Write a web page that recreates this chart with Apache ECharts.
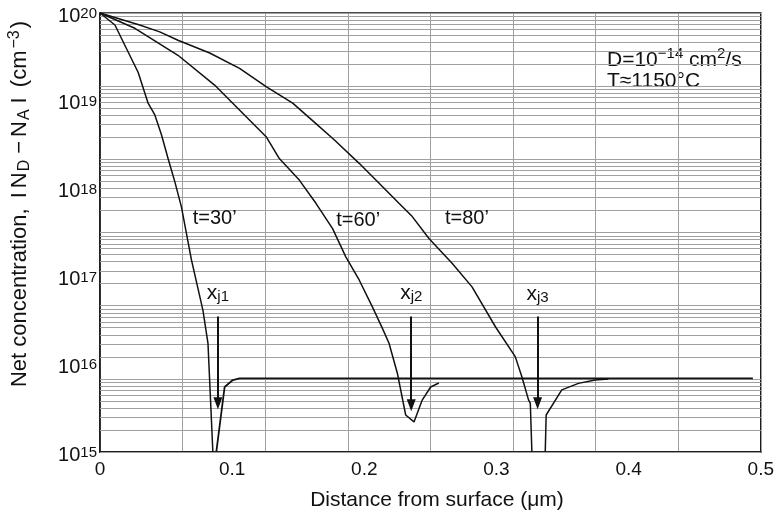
<!DOCTYPE html>
<html>
<head>
<meta charset="utf-8">
<script src="https://cdn.jsdelivr.net/npm/echarts@6/dist/echarts.min.js"></script>
<style>
  html, body { margin: 0; padding: 0; background: #fff; }
  #chart { width: 777px; height: 518px; }
</style>
</head>
<body>
<div id="chart"></div>
<script>
// Net donor-minus-acceptor concentration (cm^-3) against depth (µm)
// for three diffusion times; each pair is [distance, |ND - NA|].
const t30Front = [
  [0, 1e20], [0.0113, 7.3e19], [0.0213, 3.6e19], [0.0289, 2.1e19], [0.0364, 9.4e18],
  [0.0415, 6.9e18], [0.0465, 4.1e18], [0.0515, 2.2e18], [0.0566, 1.2e18], [0.0616, 6.2e17],
  [0.0692, 1.54e17], [0.0779, 4.1e16], [0.0817, 1.73e16], [0.0854, 1e15]
];
const t30Tail = [
  [0.0880, 1e15], [0.0943, 5.5e15], [0.1005, 6.6e15], [0.1056, 6.9e15], [0.494, 6.9e15]
];
const t60Profile = [
  [0, 1e20], [0.0264, 6.7e19], [0.059, 3.3e19], [0.0867, 1.51e19], [0.1257, 3.9e18],
  [0.1357, 2.2e18], [0.1508, 1.25e18], [0.1634, 6.8e17], [0.176, 3.5e17], [0.186, 1.67e17],
  [0.1961, 9.1e16], [0.2061, 4.5e16], [0.2137, 2.56e16], [0.2187, 1.73e16], [0.225, 7.9e15],
  [0.2313, 2.64e15], [0.2376, 2.2e15], [0.2438, 3.9e15], [0.2502, 5.5e15], [0.2564, 6.1e15]
];
const t80Front = [
  [0, 1e20], [0.03, 7.3e19], [0.0452, 6.1e19], [0.059, 4.9e19], [0.083, 3.5e19],
  [0.1056, 2.34e19], [0.1257, 1.45e19], [0.1458, 9.4e18], [0.1634, 5.5e18], [0.1772, 3.6e18],
  [0.1961, 1.94e18], [0.2112, 1.15e18], [0.2262, 6.8e17], [0.2363, 4.8e17], [0.2489, 2.7e17],
  [0.2664, 1.41e17], [0.2815, 7.6e16], [0.2992, 2.67e16], [0.3142, 1.22e16], [0.3192, 7.2e15],
  [0.3243, 3.9e15], [0.3256, 3.6e15], [0.3268, 1e15]
];
const t80Tail = [
  [0.3369, 1e15], [0.3376, 2.64e15], [0.3494, 5.1e15], [0.362, 6.05e15], [0.3746, 6.6e15],
  [0.3846, 6.8e15]
];

// Curve captions, placed by their left edge
const curveLabels = [
  { name: 't=30\u2019', value: [0.0701, 4.6e17] },
  { name: 't=60\u2019', value: [0.1787, 4.3e17] },
  { name: 't=80\u2019', value: [0.261, 4.6e17] }
];

// Junction depth markers: arrow from `top` down to `tip`, caption at `label`
const junctionNames = ['j1', 'j2', 'j3'];
const junctionDepth = [0.0892, 0.2355, 0.3311];
const junctionTop = [3.5e16, 3.5e16, 3.5e16];
const junctionTip = [3.6e15, 3.4e15, 3.6e15];
const junctionLabelLevel = [6.5e16, 6.5e16, 6.3e16];

// Axis ticks
const xTickLabels = ['0', '0.1', '0.2', '0.3', '0.4', '0.5'];
const yTickExponents = [15, 16, 17, 18, 19, 20];

// Ruling of the semi-log paper: six cycles, lines at 1..9 of each cycle
const paperCycles = 6;
const paperMantissas = [1, 2, 3, 4, 5, 6, 7, 8, 9];
const paperRules = [];
for (let k = 0; k < paperCycles; k++) {
  paperMantissas.forEach(m => paperRules.push(m * Math.pow(10, k)));
}
paperRules.push(Math.pow(10, paperCycles));

const FONT = '"Liberation Sans", Arial, Helvetica, sans-serif';
const INK = '#111';
const RULE = '#a0a0a0';

const chart = echarts.init(document.getElementById('chart'), null, { renderer: 'canvas' });

const curveLine = (name, data, width) => ({
  name, type: 'line', data, showSymbol: false, silent: true, z: 5,
  lineStyle: { color: INK, width }
});

const option = {
  animation: false,
  backgroundColor: '#fff',
  grid: {
    left: 100, right: 14, top: 13, bottom: 66,
    show: true, borderColor: INK, borderWidth: 1.5, backgroundColor: 'transparent'
  },
  xAxis: [
    {
      type: 'value', min: 0, max: 0.5, interval: 0.1,
      axisLine: { show: true, lineStyle: { color: INK, width: 1.5 } },
      axisTick: { show: false },
      splitLine: { show: false },
      axisLabel: {
        fontFamily: FONT, fontSize: 19, color: INK, margin: 8,
        formatter: v => xTickLabels[Math.round(v * 10)]
      }
    },
    {
      type: 'value', min: 0, max: 0.5, interval: 0.0625,
      axisLine: { show: false }, axisTick: { show: false }, axisLabel: { show: false },
      splitLine: { show: true, lineStyle: { color: RULE, width: 1 } }
    }
  ],
  yAxis: [
    {
      type: 'log', logBase: 10, min: 1e15, max: 1e20,
      axisLine: { show: true, lineStyle: { color: INK, width: 1.5 } },
      axisTick: { show: false },
      splitLine: { show: false },
      axisLabel: {
        margin: 3,
        formatter: v => {
          const e = Math.round(Math.log10(v));
          return yTickExponents.indexOf(e) >= 0 ? '{b|10}{s|' + e + '}' : '';
        },
        rich: {
          b: { fontFamily: FONT, fontSize: 20, color: INK, padding: [6, 0, 0, 0] },
          s: { fontFamily: FONT, fontSize: 15, color: INK, padding: [2, 0, 0, 0] }
        }
      }
    },
    {
      type: 'log', logBase: 10, min: 1, max: Math.pow(10, paperCycles),
      show: false,
      axisLine: { show: false }, axisTick: { show: false }, axisLabel: { show: false },
      splitLine: { show: false }
    }
  ],
  graphic: [
    {
      type: 'text', x: 437, y: 500, z: 10,
      style: {
        text: 'Distance from surface (\u03bcm)',
        font: '21px ' + FONT, fill: INK, align: 'center', verticalAlign: 'middle'
      }
    },
    {
      type: 'text', x: 20, y: 204, rotation: Math.PI / 2, z: 10,
      style: {
        text: '{n|Net concentration, }{b|I}{n|N}{d|D}{m|\u2212}{n|N}{d|A}{b|I}{n| (cm}{u|\u22123}{n|)}',
        align: 'center', verticalAlign: 'middle',
        rich: {
          n: { fontFamily: FONT, fontSize: 22, fill: INK, color: INK },
          b: { fontFamily: FONT, fontSize: 22, fill: INK, color: INK, padding: [0, 4, 0, 4] },
          m: { fontFamily: FONT, fontSize: 22, fill: INK, color: INK, padding: [0, 4, 0, 4] },
          d: { fontFamily: FONT, fontSize: 16, fill: INK, color: INK, padding: [9, 2, 0, 1] },
          u: { fontFamily: FONT, fontSize: 16, fill: INK, color: INK, padding: [0, 2, 11, 2] }
        }
      }
    },
    {
      type: 'group', z: 20,
      children: [
        {
          type: 'rect', shape: { x: 593, y: 35, width: 157, height: 64 },
          style: { fill: '#fff' }
        },
        {
          type: 'text', x: 607, y: 60,
          style: {
            text: '{n|D=10}{s|\u221214}{n| cm}{s|2}{n|/s}',
            align: 'left', verticalAlign: 'middle',
            rich: {
              n: { fontFamily: FONT, fontSize: 21, fill: INK, color: INK },
              s: { fontFamily: FONT, fontSize: 15, fill: INK, color: INK, padding: [0, 0, 12, 0] }
            }
          }
        },
        {
          type: 'text', x: 607, y: 81,
          style: {
            text: 'T\u22481150\u00b0C',
            font: '21px ' + FONT, fill: INK, align: 'left', verticalAlign: 'middle'
          }
        }
      ]
    }
  ],
  series: [
    {
      name: 'paper',
      type: 'line', xAxisIndex: 1, yAxisIndex: 1, data: [], silent: true, z: 1,
      markLine: {
        silent: true, symbol: 'none', animation: false,
        label: { show: false },
        emphasis: { disabled: true },
        lineStyle: { color: RULE, width: 1, type: 'solid' },
        data: paperRules.map(v => ({ yAxis: v }))
      }
    },
    curveLine('t30 front', t30Front, 1.5),
    curveLine('t30 tail', t30Tail, 1.8),
    curveLine('t60', t60Profile, 1.5),
    curveLine('t80 front', t80Front, 1.5),
    curveLine('t80 tail', t80Tail, 1.5),
    {
      name: 'curve labels', type: 'scatter', data: curveLabels, symbolSize: 0, silent: true, z: 6,
      itemStyle: { opacity: 1 },
      label: {
        show: true, position: 'right', distance: 0, formatter: '{b}',
        fontFamily: FONT, fontSize: 20, color: INK, opacity: 1, textBorderWidth: 0
      }
    },
    {
      name: 'junctions', type: 'scatter', silent: true, z: 6, symbolSize: 0,
      itemStyle: { opacity: 1 },
      data: junctionNames.map((n, i) => ({ name: n, value: [junctionDepth[i], junctionLabelLevel[i]] })),
      label: {
        show: true, position: 'inside', formatter: p => '{x|x}{j|' + p.name + '}',
        opacity: 1, textBorderWidth: 0,
        rich: {
          x: { fontFamily: FONT, fontSize: 21, color: INK },
          j: { fontFamily: FONT, fontSize: 15, color: INK, padding: [8, 0, 0, 0] }
        }
      },
      markLine: {
        silent: true, animation: false,
        symbol: ['none', 'triangle'],
        label: { show: false },
        emphasis: { disabled: true },
        lineStyle: { color: INK, width: 2, type: 'solid', opacity: 1 },
        itemStyle: { opacity: 1 },
        data: junctionNames.map((n, i) => [
          { coord: [junctionDepth[i], junctionTop[i]], symbol: 'none' },
          { coord: [junctionDepth[i], junctionTip[i]], symbol: 'triangle', symbolSize: [9, 12] }
        ])
      }
    }
  ]
};

chart.setOption(option);
</script>
</body>
</html>
